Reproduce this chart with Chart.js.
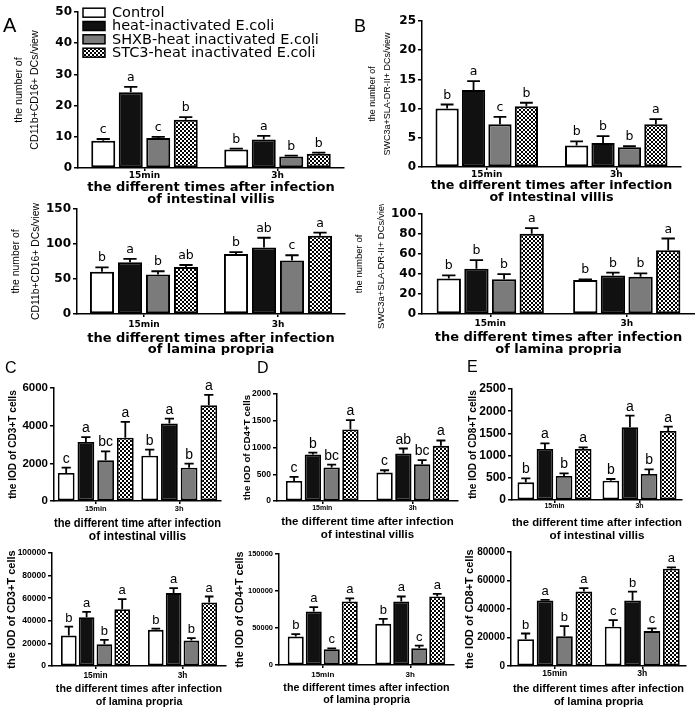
<!DOCTYPE html>
<html><head><meta charset="utf-8">
<script src="https://cdn.jsdelivr.net/npm/chart.js@4.4.1/dist/chart.umd.min.js"></script>
<style>
html,body{margin:0;padding:0;background:#fff;}
#wrap{position:relative;width:695px;height:715px;overflow:hidden;background:#fff;}
#wrap canvas{position:absolute;}
.plabel{position:absolute;font-family:'Liberation Sans',Arial,sans-serif;line-height:1;color:#000;}
</style></head><body><div id="wrap"></div>
<script>
// ---------- DATA ----------
const categories = ['15min', '3h'];
const seriesNames = ['Control', 'heat-inactivated E.coli', 'SHXB-heat inactivated E.coli', 'STC3-heat inactivated E.coli'];
// rows = series (Control, heat, SHXB, STC3); columns = categories (15min, 3h)
const aVillisMean = [[8.7, 5.9], [24.3, 9.1], [9.6, 3.7], [15.5, 4.6]];
const aVillisErr  = [[0.6, 0.3], [1.7, 1.2], [0.4, 0.25], [0.8, 0.3]];
const aVillisSig  = [['c', 'b'], ['a', 'a'], ['c', 'b'], ['b', 'b']];

const aLaminaMean = [[60.3, 85.7], [74.1, 95.0], [56.5, 76.4], [67.2, 111.7]];
const aLaminaErr  = [[6.4, 2.8], [4.7, 13.9], [4.6, 7.5], [2.8, 4.6]];
const aLaminaSig  = [['b', 'b'], ['a', 'ab'], ['b', 'c'], ['ab', 'a']];

const bVillisMean = [[10.0, 3.7], [13.2, 4.1], [7.3, 3.4], [10.4, 7.3]];
const bVillisErr  = [[0.7, 0.7], [1.5, 1.2], [1.3, 0.15], [0.6, 0.9]];
const bVillisSig  = [['b', 'b'], ['a', 'b'], ['c', 'b'], ['b', 'a']];

const bLaminaMean = [[35.6, 34.0], [45.2, 38.6], [34.7, 37.3], [80.2, 63.7]];
const bLaminaErr  = [[3.0, 0.6], [8.6, 2.7], [5.2, 3.3], [5.6, 11.8]];
const bLaminaSig  = [['b', 'b'], ['b', 'b'], ['b', 'b'], ['a', 'a']];

const cVillisMean = [[1490, 2400], [3130, 4110], [2160, 1770], [3360, 5080]];
const cVillisErr  = [[280, 330], [260, 260], [470, 210], [840, 560]];
const cVillisSig  = [['c', 'b'], ['a', 'a'], ['bc', 'b'], ['a', 'a']];

const cLaminaMean = [[26900, 32000], [43200, 64500], [19200, 22500], [50300, 56200]];
const cLaminaErr  = [[8000, 1100], [4700, 4400], [3900, 2100], [8900, 5300]];
const cLaminaSig  = [['b', 'b'], ['a', 'a'], ['b', 'b'], ['a', 'a']];

const dVillisMean = [[375, 531], [869, 888], [625, 688], [1338, 1031]];
const dVillisErr  = [[75, 44], [37, 93], [56, 75], [175, 100]];
const dVillisSig  = [['c', 'c'], ['b', 'ab'], ['bc', 'bc'], ['a', 'a']];

const dLaminaMean = [[38400, 55600], [72300, 85800], [21200, 22600], [85800, 92600]];
const dLaminaErr  = [[3200, 6700], [5900, 6800], [1400, 3600], [4100, 3600]];
const dLaminaSig  = [['b', 'b'], ['a', 'a'], ['c', 'c'], ['a', 'a']];

const eVillisMean = [[398, 435], [1149, 1637], [540, 586], [1149, 1554]];
const eVillisErr  = [[90, 38], [127, 263], [61, 105], [37, 98]];
const eVillisSig  = [['b', 'b'], ['a', 'a'], ['b', 'b'], ['a', 'a']];

const eLaminaMean = [[18800, 27500], [45900, 45900], [20900, 24500], [52200, 68200]];
const eLaminaErr  = [[4000, 4700], [500, 6300], [7100, 1900], [2400, 1000]];
const eLaminaSig  = [['b', 'c'], ['a', 'b'], ['b', 'c'], ['a', 'a']];

const yTitleA = ['the number of', 'CD11b+CD16+ DCs/view'];
const yTitleB = ['the number of', 'SWC3a+SLA-DR-II+ DCs/view'];
const yTitleC = 'the IOD of CD3+T cells';
const yTitleD = 'the IOD of CD4+T cells';
const yTitleE = 'the IOD of CD8+T cells';
const xTitleVillisTop = ['the different times after infection', 'of intestinal villis'];
const xTitleVillis = ['the different time after infection', 'of intestinal villis'];
const xTitleLamina = ['the different times after infection', 'of lamina propria'];
const yMaxes = { aV: 50, aL: 150, bV: 25, bL: 100, cV: 6000, cL: 100000, dV: 2000, dL: 150000, eV: 2500, eL: 80000 };
const ySteps = { aV: 10, aL: 50, bV: 5, bL: 20, cV: 2000, cL: 20000, dV: 500, dL: 50000, eV: 500, eL: 20000 };

// ---------- STYLE / LAYOUT ----------
const DV = "'DejaVu Sans', sans-serif";
const LS = "'Liberation Sans', Arial, sans-serif";

function makeChecker() {
  const c = document.createElement('canvas');
  c.width = 4; c.height = 4;
  const x = c.getContext('2d');
  x.fillStyle = '#fff'; x.fillRect(0, 0, 4, 4);
  x.fillStyle = '#000'; x.fillRect(0, 0, 2, 2); x.fillRect(2, 2, 2, 2);
  return x.createPattern(c, 'repeat');
}
const fills = ['#ffffff', '#111111', '#7b7b7b', makeChecker()];

const topStyle = { yTick: { family: DV, size: 12, weight: 'bold' }, xTickFam: DV, xTitleFam: DV, xTitleSize: 13, xTitleWeight: 'bold', yTitleFam: LS, yTitleWeight: 'normal', sigFont: "12.5px 'DejaVu Sans', sans-serif", sigGap: 6, bw: 2 };
const botStyle = { xTickFam: LS, xTitleFam: LS, xTitleWeight: 'bold', yTitleFam: LS, yTitleWeight: 'bold', sigGap: 5, bw: 1.8 };

const panels = [
  Object.assign({}, topStyle, { key: 'aV', mean: aVillisMean, err: aVillisErr, sig: aVillisSig, yTitle: yTitleA, xTitle: xTitleVillisTop,
    L: 78, R: 344, T: 12, B: 168, cl: 0, xH: 38, padR: 2, cp: 0.827, bp: 0.873,
    yTitleSize: 10.6, yTitleLH: 16, yTitlePad: 11, xTickSize: 9, xTickPad: 0, xTitleLH: 12, legend: true }),
  Object.assign({}, topStyle, { key: 'aL', mean: aLaminaMean, err: aLaminaErr, sig: aLaminaSig, yTitle: yTitleA, xTitle: xTitleLamina,
    L: 77, R: 345, T: 209, B: 314, cl: 0, xH: 41, padR: 2, cp: 0.836, bp: 0.86,
    yTitleSize: 10.4, yTitleLH: 20, yTitlePad: 6.5, xTickSize: 9, xTickPad: 3.5, xTitleLH: 11 }),
  Object.assign({}, topStyle, { key: 'bV', mean: bVillisMean, err: bVillisErr, sig: bVillisSig, yTitle: yTitleB, xTitle: xTitleVillisTop,
    L: 422, R: 681, T: 21, B: 167, cl: 345, xH: 36, padR: 2, cp: 0.816, bp: 0.88,
    yTitleSize: 9, yTitleLH: 15, yTitlePad: 20, xTickSize: 9, xTickPad: 0, xTitleLH: 11.5, xTitleSize: 12.7 }),
  Object.assign({}, topStyle, { key: 'bL', mean: bLaminaMean, err: bLaminaErr, sig: bLaminaSig, yTitle: yTitleB, xTitle: xTitleLamina,
    L: 422, R: 695, T: 214, B: 314, cl: 345, xH: 41, padR: 0, cp: 0.81, bp: 0.88,
    yTitleSize: 9.5, yTitleLH: 22, yTitlePad: 3, xTickSize: 9, xTickPad: 2, xTitleLH: 11.5 }),
  Object.assign({}, botStyle, { key: 'cV', mean: cVillisMean, err: cVillisErr, sig: cVillisSig, yTitle: yTitleC, xTitle: xTitleVillis,
    L: 54, R: 221, T: 388, B: 501, cl: 0, xH: 42, padR: 2, cp: 0.944, bp: 0.85,
    yTick: { family: LS, size: 11.5, weight: 'bold' }, yTitleSize: 10.1, yTitleLH: 14, yTitlePad: 6,
    xTickSize: 7.5, xTickPad: 1, xTitleSize: 12, xTitleLH: 13, sigFont: "14px 'Liberation Sans', Arial, sans-serif" }),
  Object.assign({}, botStyle, { key: 'cL', mean: cLaminaMean, err: cLaminaErr, sig: cLaminaSig, yTitle: yTitleC, xTitle: xTitleLamina,
    L: 52, R: 226, T: 553, B: 666, cl: 0, xH: 43, padR: 2, cp: 0.818, bp: 0.88,
    yTick: { family: LS, size: 8.5, weight: 'bold' }, yTitleSize: 11, yTitleLH: 14, yTitlePad: 5,
    xTickSize: 8.3, xTickPad: 2.5, xTitleSize: 10.7, xTitleLH: 13, sigFont: "13px 'Liberation Sans', Arial, sans-serif" }),
  Object.assign({}, botStyle, { key: 'dV', mean: dVillisMean, err: dVillisErr, sig: dVillisSig, yTitle: yTitleD, xTitle: xTitleVillis,
    L: 277, R: 458, T: 394, B: 501, cl: 232, xH: 40, padR: 2, cp: 0.83, bp: 0.87,
    yTick: { family: LS, size: 8.5, weight: 'bold' }, yTitleSize: 9.8, yTitleLH: 14, yTitlePad: 8,
    xTickSize: 7, xTickPad: 0.5, xTitleSize: 11.5, xTitleLH: 12.5, sigFont: "14px 'Liberation Sans', Arial, sans-serif" }),
  Object.assign({}, botStyle, { key: 'dL', mean: dLaminaMean, err: dLaminaErr, sig: dLaminaSig, yTitle: yTitleD, xTitle: xTitleLamina,
    L: 279, R: 454, T: 554, B: 665, cl: 232, xH: 41, padR: 2, cp: 0.823, bp: 0.89,
    yTick: { family: LS, size: 7.5, weight: 'bold' }, yTitleSize: 10.8, yTitleLH: 14, yTitlePad: 1,
    xTickSize: 8, xTickPad: 3, xTitleSize: 10.7, xTitleLH: 12, sigFont: "13px 'Liberation Sans', Arial, sans-serif" }),
  Object.assign({}, botStyle, { key: 'eV', mean: eVillisMean, err: eVillisErr, sig: eVillisSig, yTitle: yTitleE, xTitle: xTitleVillis,
    L: 512, R: 682, T: 389, B: 500, cl: 462, xH: 42, padR: 2, cp: 0.9, bp: 0.87,
    yTick: { family: LS, size: 12, weight: 'bold' }, yTitleSize: 10.1, yTitleLH: 14, yTitlePad: 4,
    xTickSize: 7, xTickPad: 0, xTitleSize: 11.7, xTitleLH: 12.5, sigFont: "14px 'Liberation Sans', Arial, sans-serif" }),
  Object.assign({}, botStyle, { key: 'eL', mean: eLaminaMean, err: eLaminaErr, sig: eLaminaSig, yTitle: yTitleE, xTitle: xTitleLamina,
    L: 511, R: 686, T: 552, B: 666, cl: 462, xH: 42, padR: 2, cp: 0.887, bp: 0.86,
    yTick: { family: LS, size: 10, weight: 'bold' }, yTitleSize: 11.1, yTitleLH: 14, yTitlePad: 1,
    xTickSize: 8.6, xTickPad: 0.5, xTitleSize: 11, xTitleLH: 13, sigFont: "13px 'Liberation Sans', Arial, sans-serif" })
];

const wrap = document.getElementById('wrap');

function errPlugin(p) {
  return {
    id: 'errbars_' + p.key,
    afterDatasetsDraw(chart) {
      const ctx = chart.ctx, ys = chart.scales.y;
      chart.data.datasets.forEach((ds, i) => {
        const meta = chart.getDatasetMeta(i);
        meta.data.forEach((bar, j) => {
          const v = ds.data[j], e = ds.err[j];
          const yTop = ys.getPixelForValue(v), yE = ys.getPixelForValue(v + e);
          const cap = bar.width * 0.55;
          ctx.save();
          ctx.strokeStyle = '#000'; ctx.lineWidth = 1.8;
          ctx.beginPath();
          ctx.moveTo(bar.x, yTop); ctx.lineTo(bar.x, yE);
          ctx.moveTo(bar.x - cap / 2, yE); ctx.lineTo(bar.x + cap / 2, yE);
          ctx.stroke();
          ctx.fillStyle = '#000'; ctx.font = p.sigFont;
          ctx.textAlign = 'center'; ctx.textBaseline = 'alphabetic';
          ctx.fillText(ds.sig[j], bar.x, yE - p.sigGap);
          ctx.restore();
        });
      });
    }
  };
}

function legendPlugin(p) {
  return {
    id: 'boxlegend_' + p.key,
    afterDraw(chart) {
      const ctx = chart.ctx, a = chart.chartArea;
      const rows = [0.7, 14.0, 27.3, 40.7];
      chart.data.datasets.forEach((ds, i) => {
        const cy = a.top + rows[i];
        ctx.save();
        ctx.fillStyle = ds.backgroundColor;
        ctx.fillRect(a.left + 5, cy - 4.5, 22, 9);
        ctx.strokeStyle = '#000'; ctx.lineWidth = 1.5;
        ctx.strokeRect(a.left + 5, cy - 4.5, 22, 9);
        ctx.fillStyle = '#000';
        ctx.font = "14.5px 'DejaVu Sans', sans-serif";
        ctx.textAlign = 'left'; ctx.textBaseline = 'middle';
        ctx.fillText(ds.label, a.left + 34, cy + 0.5);
        ctx.restore();
      });
    }
  };
}

function makePanel(p) {
  const cv = document.createElement('canvas');
  const top = p.T - 10;
  const w = p.R + p.padR - p.cl, h = p.B + p.xH - top;
  cv.width = w; cv.height = h;
  cv.style.left = p.cl + 'px'; cv.style.top = top + 'px';
  cv.style.width = w + 'px'; cv.style.height = h + 'px';
  wrap.appendChild(cv);
  const yW = p.L - p.cl;
  const datasets = seriesNames.map((name, i) => ({
    label: name, data: p.mean[i], err: p.err[i], sig: p.sig[i],
    backgroundColor: fills[i], borderColor: '#000', borderWidth: p.bw, borderSkipped: false,
    categoryPercentage: p.cp, barPercentage: p.bp
  }));
  const plugins = [errPlugin(p)];
  if (p.legend) plugins.push(legendPlugin(p));
  new Chart(cv, {
    type: 'bar',
    data: { labels: categories, datasets },
    options: {
      responsive: false, animation: false, devicePixelRatio: 1,
      layout: { padding: { top: 10, right: p.padR, bottom: 0, left: 0 } },
      plugins: { legend: { display: false }, tooltip: { enabled: false }, title: { display: false } },
      scales: {
        x: {
          type: 'category', offset: true,
          grid: { display: true, offset: false, drawOnChartArea: false, drawTicks: true, tickLength: 3, color: '#000', lineWidth: 1.5 },
          border: { display: true, color: '#000', width: 1.5 },
          ticks: { color: '#000', padding: p.xTickPad, maxRotation: 0, autoSkip: false,
            font: { family: p.xTickFam, size: p.xTickSize, weight: 'bold', lineHeight: p.xTickSize + 'px' } },
          title: { display: true, text: p.xTitle, color: '#000', padding: { top: 0, bottom: 0 },
            font: { family: p.xTitleFam, size: p.xTitleSize, weight: p.xTitleWeight, lineHeight: p.xTitleLH + 'px' } },
          afterFit: (s) => { s.height = p.xH; }
        },
        y: {
          min: 0, max: yMaxes[p.key],
          grid: { display: true, drawOnChartArea: false, drawTicks: true, tickLength: 4, color: '#000', lineWidth: 1.5 },
          border: { display: true, color: '#000', width: 1.5 },
          ticks: { stepSize: ySteps[p.key], color: '#000', padding: 2, callback: (v) => String(v),
            font: { family: p.yTick.family, size: p.yTick.size, weight: p.yTick.weight } },
          title: { display: true, text: p.yTitle, color: '#000', padding: { top: p.yTitlePad, bottom: 0 },
            font: { family: p.yTitleFam, size: p.yTitleSize, weight: p.yTitleWeight, lineHeight: p.yTitleLH + 'px' } },
          afterFit: (s) => { s.width = yW; }
        }
      }
    },
    plugins
  });
}

panels.forEach(makePanel);

// panel letters
[['A', 3, 15, 20], ['B', 354, 17, 18], ['C', 5, 360, 16], ['D', 257, 360, 16], ['E', 467, 359, 16]].forEach(([t, x, y, s]) => {
  const d = document.createElement('div');
  d.className = 'plabel'; d.textContent = t;
  d.style.left = x + 'px'; d.style.top = y + 'px'; d.style.fontSize = s + 'px';
  wrap.appendChild(d);
});
</script>
</body></html>
